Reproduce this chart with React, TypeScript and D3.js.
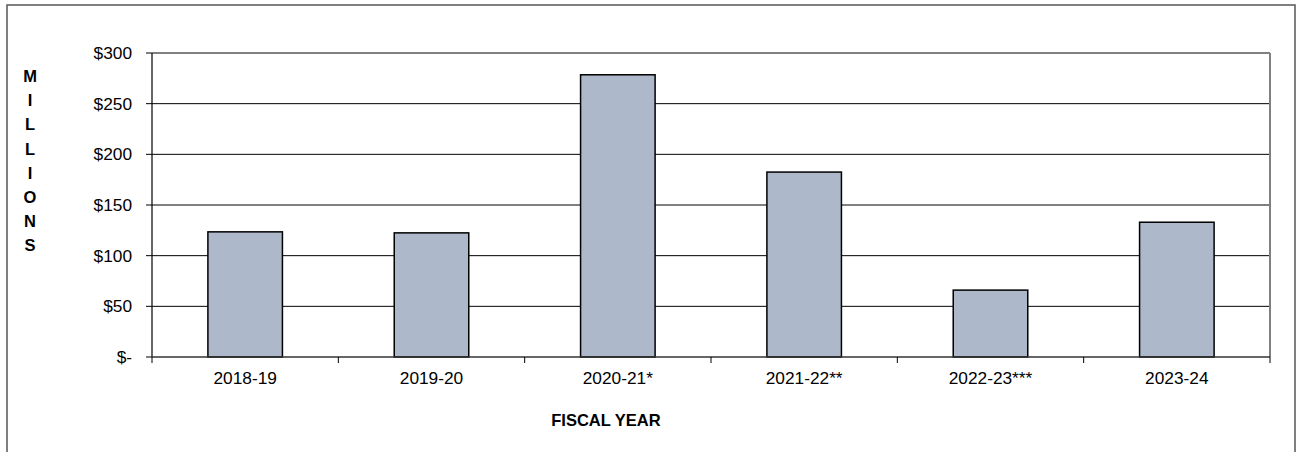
import React from "react";
import * as d3 from "d3";

const categories = ["2018-19", "2019-20", "2020-21*", "2021-22**", "2022-23***", "2023-24"];
const values = [123.5, 122.5, 278.5, 182.5, 66, 133];
const yTicks = [0, 50, 100, 150, 200, 250, 300];
const yTickLabels = ["$-", "$50", "$100", "$150", "$200", "$250", "$300"];
const yTitleLetters = ["M", "I", "L", "L", "I", "O", "N", "S"];
const xTitle = "FISCAL YEAR";

export default function App() {
  const W = 1296, H = 452;
  const left = 152, right = 1270, top = 53, bottom = 357;
  const x = d3.scaleBand<string>().domain(categories).range([left, right]).paddingInner(0.6).paddingOuter(0.3);
  const xb = d3.scaleBand<string>().domain(categories).range([left, right]);
  const y = d3.scaleLinear().domain([0, 300]).range([bottom, top]);
  const font = "Arial, 'Liberation Sans', sans-serif";
  const fs = 16.5;
  const tfs = 17.3;
  return (
    <svg width={W} height={H} style={{ position: "absolute", left: 0, top: 0, background: "#fff" }}>
      <rect x={7} y={5} width={1288} height={460} fill="#fff" stroke="#555" strokeWidth={1.5} />
      {yTicks.filter(t => t > 0 && t < 300).map(t => (
        <line key={t} x1={left} x2={right} y1={y(t)} y2={y(t)} stroke="#000" strokeWidth={1} />
      ))}
      <line x1={left} x2={right} y1={top} y2={top} stroke="#808080" strokeWidth={2} />
      <line x1={right} x2={right} y1={top} y2={bottom} stroke="#808080" strokeWidth={2} />
      {categories.map((c, i) => (
        <rect key={c} x={x(c)} y={y(values[i])} width={x.bandwidth()} height={bottom - y(values[i])}
          fill="#adb9ca" stroke="#000" strokeWidth={1.5} />
      ))}
      <line x1={left} x2={left} y1={top} y2={bottom} stroke="#000" strokeWidth={1.2} />
      <line x1={left} x2={right} y1={bottom} y2={bottom} stroke="#333" strokeWidth={1.5} />
      {yTicks.map((t, i) => (
        <g key={t}>
          <line x1={left - 6} x2={left} y1={y(t)} y2={y(t)} stroke="#000" strokeWidth={1} />
          <text x={132} y={y(t)} dy="0.35em" textAnchor="end" fontFamily={font} fontSize={tfs} fill="#000">{yTickLabels[i]}</text>
        </g>
      ))}
      {categories.map((c, i) => (
        <line key={"t" + i} x1={xb(c)} x2={xb(c)} y1={bottom} y2={bottom + 6} stroke="#000" strokeWidth={1} />
      ))}
      <line x1={right} x2={right} y1={bottom} y2={bottom + 6} stroke="#000" strokeWidth={1} />
      {categories.map(c => (
        <text key={"l" + c} x={x(c)! + x.bandwidth() / 2} y={384} textAnchor="middle" fontFamily={font} fontSize={tfs} fill="#000">{c}</text>
      ))}
      <text x={606} y={426} textAnchor="middle" fontFamily={font} fontSize={fs} fontWeight="bold" fill="#000">{xTitle}</text>
      {yTitleLetters.map((l, i) => (
        <text key={"y" + i} x={30} y={82 + i * 24.2} textAnchor="middle" fontFamily={font} fontSize={fs} fontWeight="bold" fill="#000">{l}</text>
      ))}
    </svg>
  );
}
